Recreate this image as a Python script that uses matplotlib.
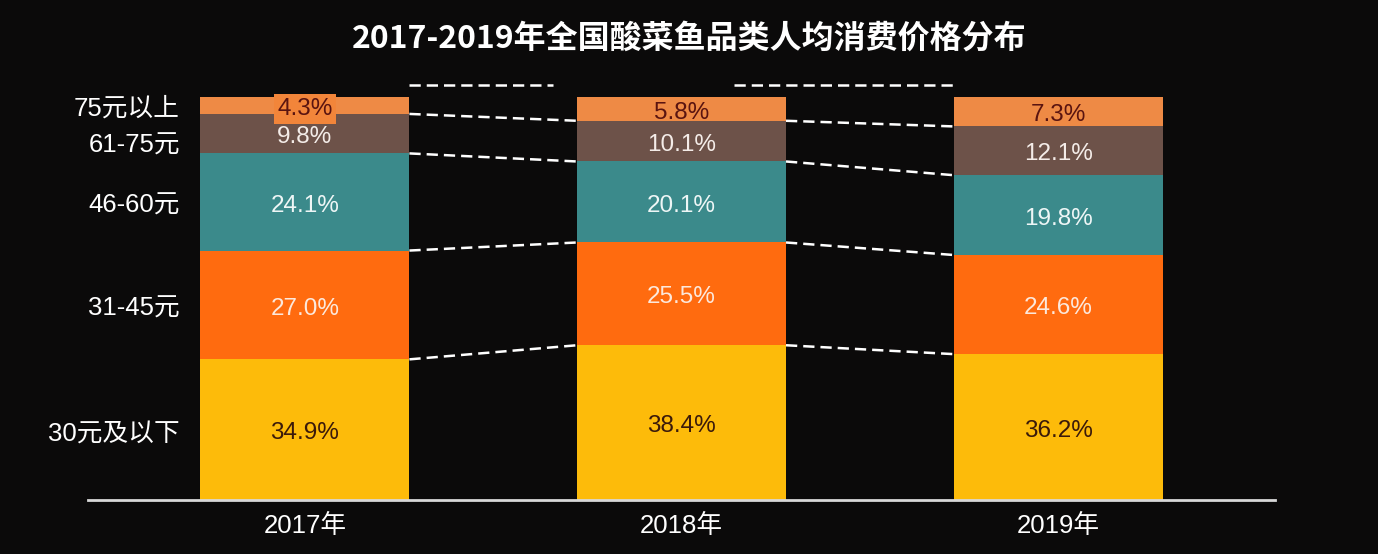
import matplotlib.pyplot as plt
import numpy as np

plt.rcParams['font.family'] = ['Noto Sans CJK SC', 'DejaVu Sans']
LAT = ['Liberation Sans', 'Noto Sans CJK SC', 'DejaVu Sans']

# 数据
years = ["2017年", "2018年", "2019年"]
tiers = ["30元及以下", "31-45元", "46-60元", "61-75元", "75元以上"]
share_30 = [34.9, 38.4, 36.2]
share_31_45 = [27.0, 25.5, 24.6]
share_46_60 = [24.1, 20.1, 19.8]
share_61_75 = [9.8, 10.1, 12.1]
share_75 = [4.3, 5.8, 7.3]

values = np.array([share_30, share_31_45, share_46_60, share_61_75, share_75])
colors = ["#FDBB0A", "#FF6B0F", "#3B8A8B", "#6D5249", "#EE8A45"]
text_colors = ["#3B1A0A", "#FCE8DC", "#EEF6F6", "#F4ECE8", "#5A1410"]

fig = plt.figure(figsize=(13.78, 5.54), dpi=100, facecolor="#0B0A0A")
ax = fig.add_axes([88 / 1378, 54 / 554, 1187 / 1378, 443.3 / 554])
ax.set_facecolor("#0B0A0A")

x = np.arange(len(years))
w = 0.555
off = 0.9  # 文字略向下
bottoms = np.zeros(len(years))
for i in range(len(tiers)):
    ax.bar(x, values[i], w, bottom=bottoms, color=colors[i], edgecolor="none")
    for j in range(len(years)):
        kw = {}
        if i == 4 and j == 0:
            kw["bbox"] = dict(boxstyle="square,pad=0.15", fc="#F2853A", ec="none")
        ax.text(x[j], bottoms[j] + values[i][j] / 2 - off, f"{values[i][j]:.1f}%",
                ha="center", va="center", fontsize=17.5, color=text_colors[i],
                family=LAT, **kw)
    bottoms = bottoms + values[i]

# 虚线连接各段分界
dash = (0, (4.5, 2.4))
cum = np.cumsum(values, axis=0)
for i in range(len(tiers) - 1):
    for j in range(len(years) - 1):
        ax.plot([x[j] + w / 2, x[j + 1] - w / 2], [cum[i][j], cum[i][j + 1]],
                color="white", lw=1.8, ls=dash)
# 顶部的两段虚线
ax.plot([x[0] + w / 2, 0.66], [103, 103], color="white", lw=1.8, ls=dash)
ax.plot([1.14, x[2] - w / 2], [103, 103], color="white", lw=1.8, ls=dash)

# 左侧类别标签（对应2017年各段）
label_y = cum[:, 0] - values[:, 0] / 2 - off
label_y[3] -= 2.0
for t, yy in zip(tiers, label_y):
    ax.text(-0.332, yy, t, ha="right", va="center", fontsize=18.5,
            color="white", family=LAT)

ax.set_xlim(-0.576, 2.576)
ax.set_ylim(0, 110)
ax.set_xticks(x)
ax.set_xticklabels(years, fontsize=18.5, color="white", family=LAT)
ax.tick_params(axis="x", length=0, pad=10)
ax.set_yticks([])
for s in ["top", "right", "left"]:
    ax.spines[s].set_visible(False)
ax.spines["bottom"].set_color("#D8D8D8")
ax.spines["bottom"].set_linewidth(2)

fig.text(0.5, 1 - 39 / 554, "2017-2019年全国酸菜鱼品类人均消费价格分布",
         ha="center", va="center", fontsize=23, fontweight="bold", color="white")

fig.savefig("out.png", dpi=100, facecolor=fig.get_facecolor())
